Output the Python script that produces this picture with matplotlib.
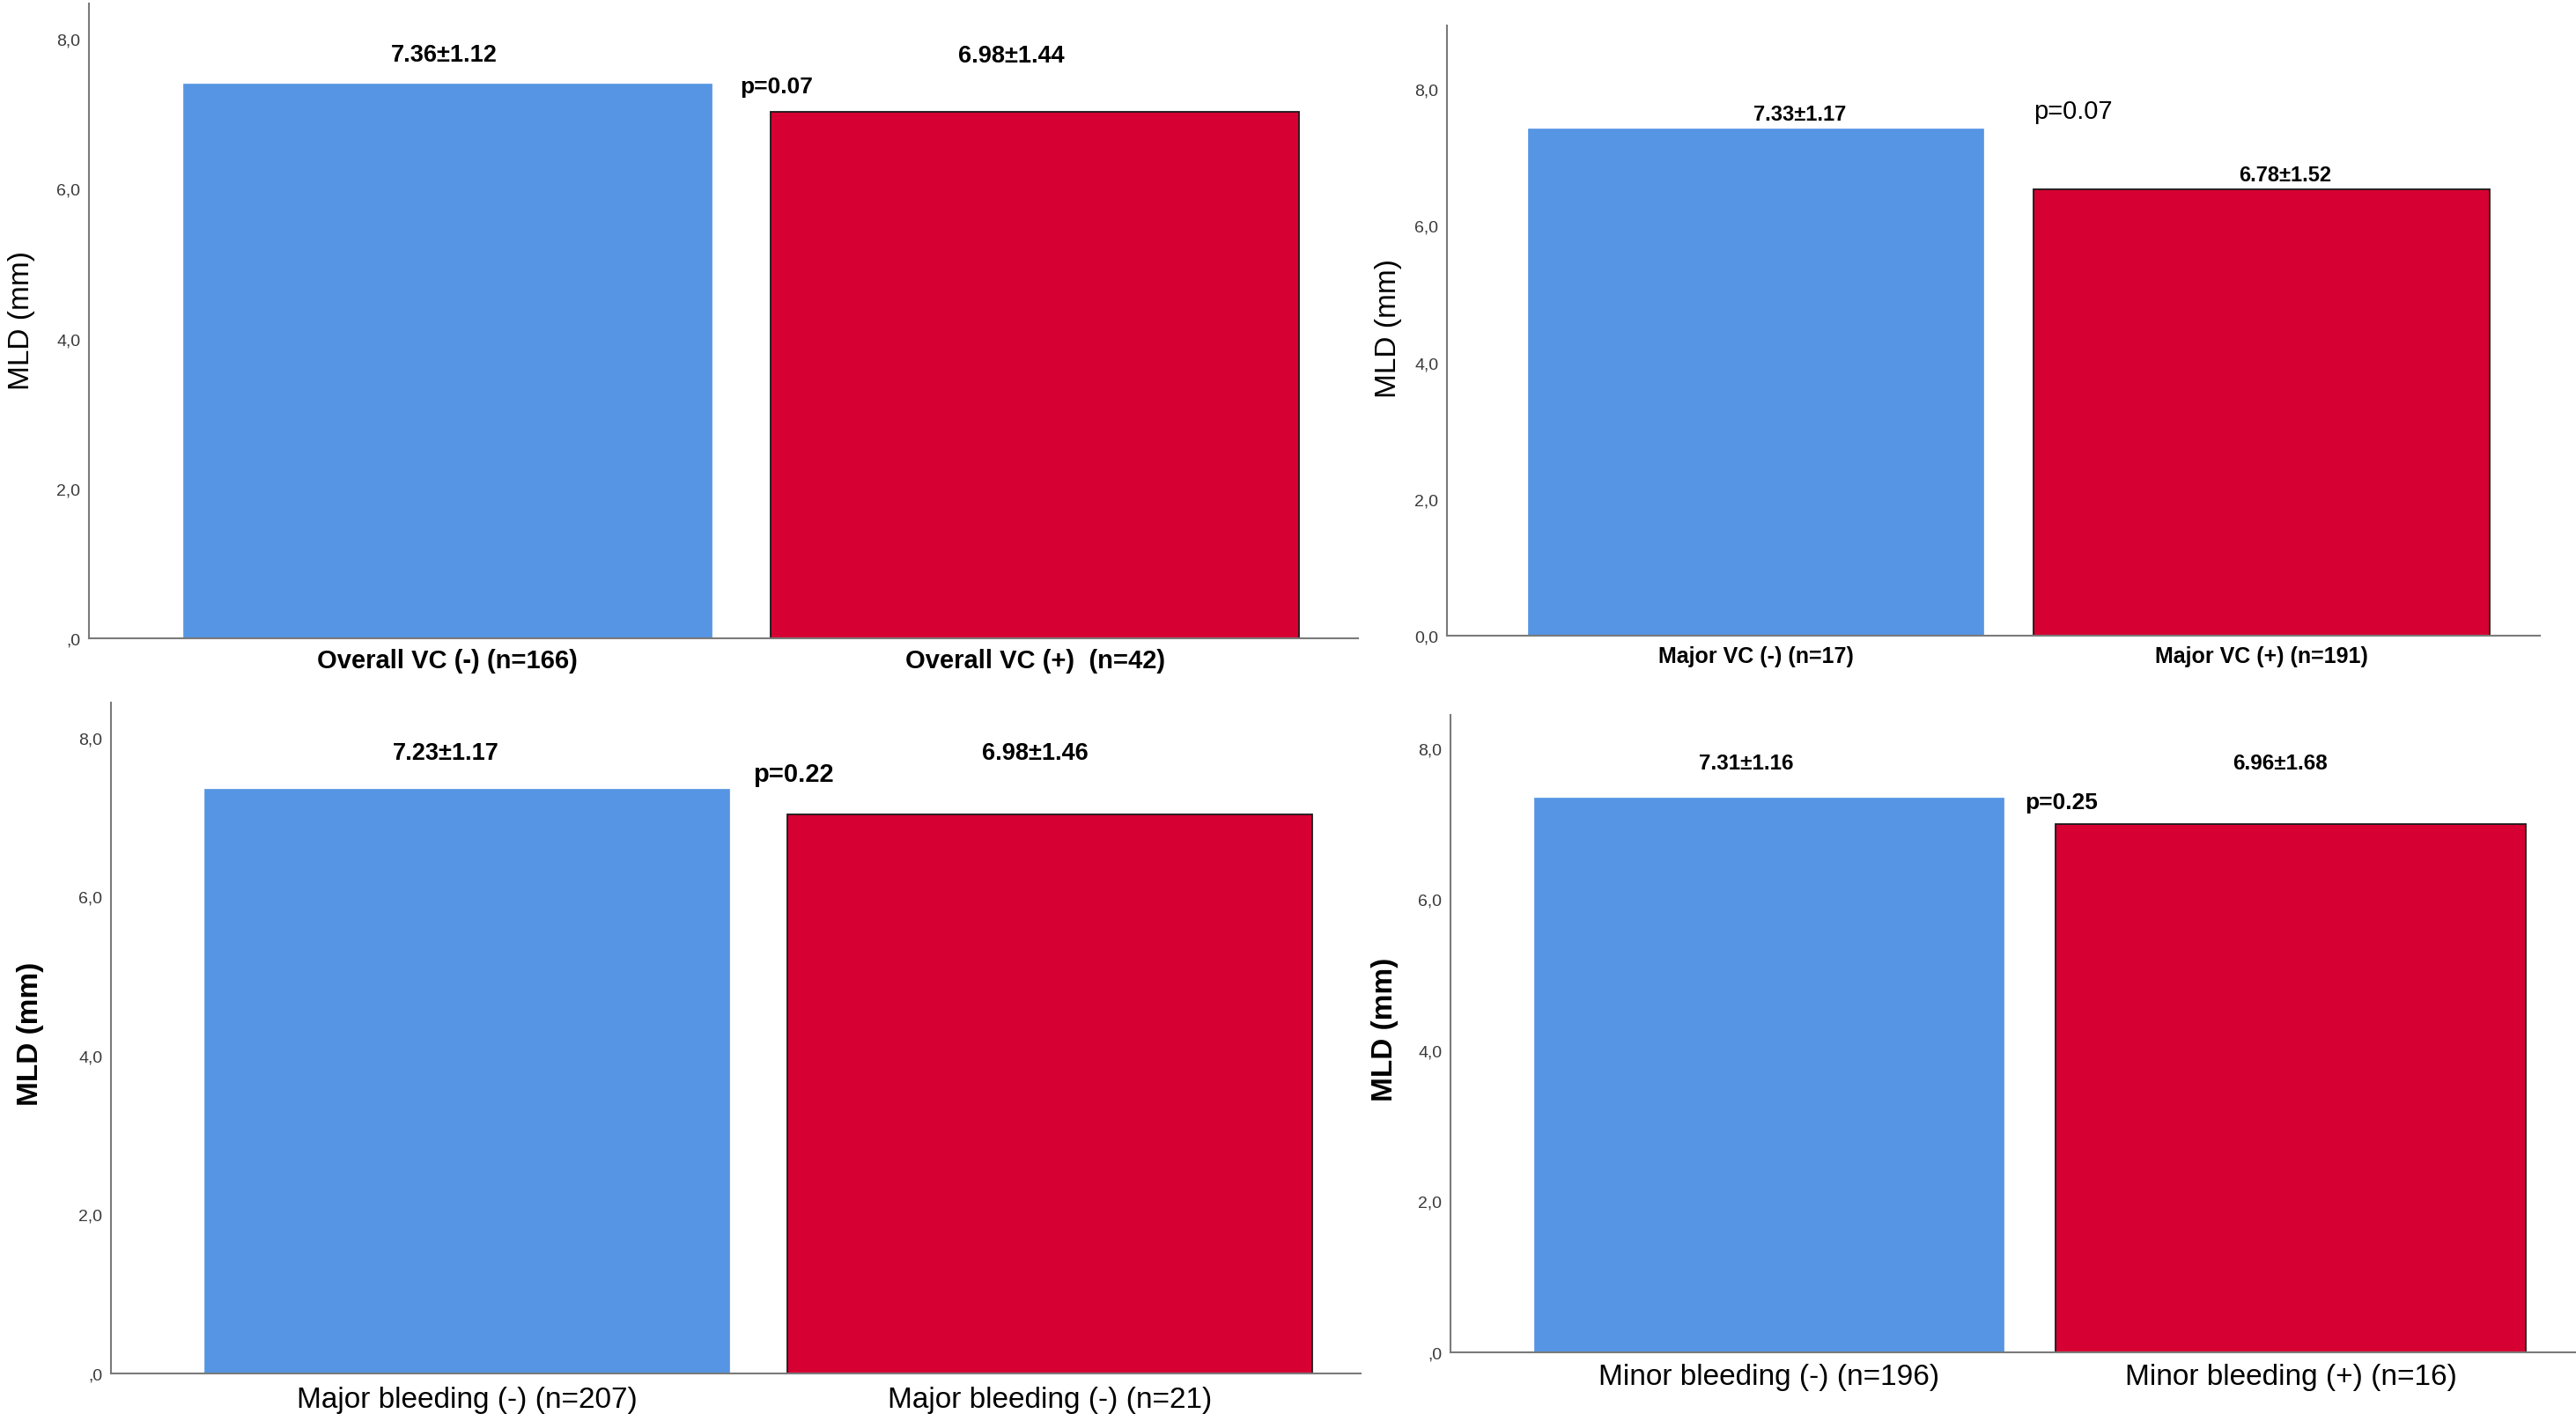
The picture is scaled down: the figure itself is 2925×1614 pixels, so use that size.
import matplotlib
matplotlib.use("Agg")
import matplotlib.pyplot as plt

# Four SPSS-style two-bar panels of MLD (mm)
plt.rcParams["font.family"] = ["Liberation Sans", "DejaVu Sans"]

BLUE = "#5595e3"
RED = "#d60032"
SPINE = "#7a7a7a"
TICK_INK = "#3a3a3a"

FIG_W, FIG_H = 2925, 1615

# ---- data ----
overall_cats = ["Overall VC (-) (n=166)", "Overall VC (+)  (n=42)"]
overall_mld = [7.40, 7.03]
overall_txt = ["7.36±1.12", "6.98±1.44"]
overall_p = "p=0.07"

majorvc_cats = ["Major VC (-) (n=17)", "Major VC (+) (n=191)"]
majorvc_mld = [7.42, 6.53]
majorvc_txt = ["7.33±1.17", "6.78±1.52"]
majorvc_p = "p=0.07"

majorbl_cats = ["Major bleeding (-) (n=207)", "Major bleeding (-) (n=21)"]
majorbl_mld = [7.36, 7.03]
majorbl_txt = ["7.23±1.17", "6.98±1.46"]
majorbl_p = "p=0.22"

minorbl_cats = ["Minor bleeding (-) (n=196)", "Minor bleeding (+) (n=16)"]
minorbl_mld = [7.35, 6.99]
minorbl_txt = ["7.31±1.16", "6.96±1.68"]
minorbl_p = "p=0.25"

yticks = [0, 2, 4, 6, 8]
ytick_labels = [",0", "2,0", "4,0", "6,0", "8,0"]
ytick_labels_b = ["0,0", "2,0", "4,0", "6,0", "8,0"]

# ---- layout: pixel boxes (x0, y0, x1, y1) and text placement per panel ----
panels = [
    dict(cats=overall_cats, mld=overall_mld, txt=overall_txt, p=overall_p,
         box=(101, 5, 1542, 726), ytop=8.47, yticklabels=ytick_labels,
         txt_xy=[(-0.005, 7.79), (0.96, 7.78)], txt_size=19.5,
         p_xy=(0.498, 7.36), p_size=19, p_weight="bold",
         xl_size=21, xl_weight="bold", xl_pad=8, ylab_xy=(25, 364),
         ylab_weight="normal", xright=1.55),
    dict(cats=majorvc_cats, mld=majorvc_mld, txt=majorvc_txt, p=majorvc_p,
         box=(1643, 30, 2884, 723), ytop=8.93, yticklabels=ytick_labels_b,
         txt_xy=[(0.087, 7.64), (1.047, 6.75)], txt_size=17,
         p_xy=(0.549, 7.68), p_size=21, p_weight="normal",
         xl_size=18, xl_weight="bold", xl_pad=8, ylab_xy=(1577, 373),
         ylab_weight="normal", xright=1.55),
    dict(cats=majorbl_cats, mld=majorbl_mld, txt=majorbl_txt, p=majorbl_p,
         box=(126, 799, 1545, 1561), ytop=8.44, yticklabels=ytick_labels,
         txt_xy=[(-0.035, 7.81), (0.975, 7.81)], txt_size=19.5,
         p_xy=(0.491, 7.54), p_size=21, p_weight="bold",
         xl_size=24, xl_weight="normal", xl_pad=10, ylab_xy=(35, 1174),
         ylab_weight="bold", xright=1.533),
    dict(cats=minorbl_cats, mld=minorbl_mld, txt=minorbl_txt, p=minorbl_p,
         box=(1647, 813, 2924, 1537), ytop=8.44, yticklabels=ytick_labels,
         txt_xy=[(-0.043, 7.80), (0.979, 7.80)], txt_size=17.5,
         p_xy=(0.491, 7.29), p_size=19, p_weight="bold",
         xl_size=24, xl_weight="normal", xl_pad=9, ylab_xy=(1573, 1169),
         ylab_weight="bold", xright=1.545),
]

fig = plt.figure(figsize=(FIG_W / 100, FIG_H / 100), dpi=100)
fig.patch.set_facecolor("white")

for pn in panels:
    x0, y0, x1, y1 = pn["box"]
    ax = fig.add_axes([x0 / FIG_W, 1 - y1 / FIG_H, (x1 - x0) / FIG_W, (y1 - y0) / FIG_H])

    pos = list(range(len(pn["cats"])))
    ax.bar(pos[0], pn["mld"][0], width=0.9, color=BLUE, edgecolor=BLUE,
           linewidth=0.5, zorder=2)
    ax.bar(pos[1], pn["mld"][1], width=0.9, color=RED, edgecolor="#1a1a1a",
           linewidth=1.3, zorder=2)

    ax.set_xlim(-0.61, pn["xright"])
    ax.set_ylim(0, pn["ytop"])

    ax.set_xticks(pos)
    ax.set_xticklabels(pn["cats"], fontsize=pn["xl_size"],
                       fontweight=pn["xl_weight"], color="black")
    ax.set_yticks(yticks)
    ax.set_yticklabels(pn["yticklabels"], fontsize=14, color=TICK_INK)
    ax.tick_params(axis="x", length=0, pad=pn["xl_pad"])
    ax.tick_params(axis="y", length=0, pad=7)

    for s in ("top", "right"):
        ax.spines[s].set_visible(False)
    for s in ("left", "bottom"):
        ax.spines[s].set_color(SPINE)
        ax.spines[s].set_linewidth(1.5)

    for (tx, ty), t in zip(pn["txt_xy"], pn["txt"]):
        ax.text(tx, ty, t, ha="center", va="center", fontsize=pn["txt_size"],
                fontweight="bold", color="black")
    ax.text(pn["p_xy"][0], pn["p_xy"][1], pn["p"], ha="left", va="center",
            fontsize=pn["p_size"], fontweight=pn["p_weight"], color="black")

    lx, ly = pn["ylab_xy"]
    fig.text(lx / FIG_W, 1 - ly / FIG_H, "MLD (mm)", rotation=90,
             ha="center", va="center", fontsize=24,
             fontweight=pn["ylab_weight"], color="black")

fig.savefig("out.png", dpi=100, facecolor="white")
